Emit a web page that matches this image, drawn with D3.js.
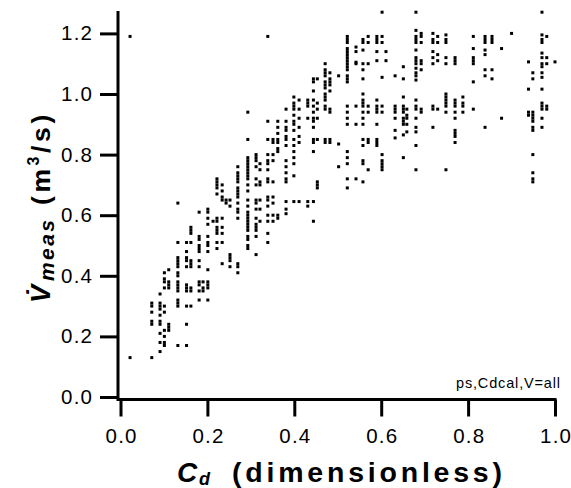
<!DOCTYPE html>
<html>
<head>
<meta charset="utf-8">
<script src="https://cdn.jsdelivr.net/npm/d3@7"></script>
<style>
body { margin: 0; background: #fff; }
</style>
</head>
<body>
<script>
// Cd value of each column of measurements, and the measured flows in that column
var cdColumns = [0.022, 0.072, 0.091, 0.101, 0.111, 0.132, 0.152, 0.162, 0.181, 0.190,
    0.201, 0.213, 0.222, 0.234, 0.243, 0.252, 0.270, 0.293, 0.312, 0.321,
    0.339, 0.351, 0.362, 0.381, 0.399, 0.411, 0.431, 0.444, 0.453, 0.471,
    0.482, 0.502, 0.522, 0.542, 0.558, 0.570, 0.590, 0.602, 0.611, 0.632,
    0.651, 0.659, 0.680, 0.692, 0.719, 0.730, 0.749, 0.770, 0.788, 0.812,
    0.839, 0.855, 0.877, 0.900, 0.939, 0.949, 0.970, 0.981, 1.000];

var vmeasColumns = [
    [1.19, 0.13],
    [0.31, 0.30, 0.28, 0.25, 0.24, 0.13],
    [0.34, 0.31, 0.30, 0.29, 0.27, 0.25, 0.24, 0.21, 0.18, 0.15],
    [0.41, 0.39, 0.38, 0.36, 0.30, 0.28, 0.22, 0.20, 0.18, 0.17],
    [0.42, 0.38, 0.37, 0.36, 0.24, 0.23, 0.22],
    [0.64, 0.51, 0.46, 0.45, 0.44, 0.43, 0.41, 0.40, 0.38, 0.37, 0.36, 0.35, 0.32, 0.31, 0.30, 0.17],
    [0.51, 0.48, 0.46, 0.45, 0.43, 0.37, 0.36, 0.35, 0.30, 0.24, 0.17],
    [0.56, 0.55, 0.54, 0.51, 0.45, 0.44, 0.43, 0.36, 0.35, 0.30],
    [0.61, 0.53, 0.52, 0.50, 0.49, 0.48, 0.45, 0.43, 0.38, 0.37, 0.35, 0.32],
    [0.38, 0.36, 0.35],
    [0.62, 0.61, 0.59, 0.57, 0.53, 0.51, 0.50, 0.48, 0.42, 0.38, 0.37, 0.36, 0.32],
    [0.58],
    [0.72, 0.71, 0.70, 0.69, 0.67, 0.59, 0.58, 0.56, 0.55, 0.54, 0.51, 0.49],
    [0.70, 0.68, 0.66, 0.65, 0.59, 0.56, 0.54, 0.51, 0.44],
    [0.65, 0.64],
    [0.65, 0.63, 0.47, 0.46, 0.45, 0.43],
    [0.76, 0.74, 0.73, 0.72, 0.71, 0.69, 0.68, 0.67, 0.66, 0.64, 0.62, 0.61, 0.59, 0.44, 0.43, 0.41],
    [0.94, 0.85, 0.79, 0.78, 0.77, 0.76, 0.75, 0.74, 0.73, 0.72, 0.70, 0.68, 0.65, 0.63, 0.61, 0.60, 0.59, 0.58, 0.57, 0.56, 0.55, 0.53, 0.52, 0.50, 0.49],
    [0.80, 0.79, 0.78, 0.76, 0.72, 0.70, 0.65, 0.64, 0.62, 0.59, 0.57, 0.56, 0.55, 0.53, 0.47],
    [0.77, 0.75, 0.71, 0.70, 0.65, 0.62, 0.58],
    [1.19, 0.91, 0.85, 0.80, 0.78, 0.77, 0.75, 0.72, 0.71, 0.66, 0.65, 0.63, 0.60, 0.58, 0.54, 0.51],
    [0.85, 0.84, 0.80, 0.78, 0.71, 0.66, 0.64, 0.60, 0.58],
    [0.91, 0.89, 0.87, 0.85, 0.84, 0.82, 0.81, 0.60, 0.59],
    [0.95, 0.91, 0.89, 0.88, 0.86, 0.85, 0.83, 0.78, 0.76, 0.74, 0.72, 0.71, 0.645, 0.62, 0.605],
    [0.99, 0.97, 0.96, 0.95, 0.93, 0.91, 0.90, 0.88, 0.85, 0.83, 0.81, 0.79, 0.77, 0.73, 0.645],
    [0.98, 0.95, 0.92, 0.89, 0.86, 0.84, 0.645],
    [0.98, 0.97, 0.96, 0.92, 0.645, 0.63],
    [1.05, 1.04, 1.01, 0.98, 0.96, 0.94, 0.92, 0.91, 0.89, 0.85, 0.84, 0.81, 0.645, 0.58],
    [1.05, 0.97, 0.95, 0.92, 0.85, 0.71, 0.70, 0.69],
    [1.10, 1.08, 1.07, 1.06, 1.04, 1.03, 1.02, 1.00, 0.99, 0.98, 0.96, 0.95, 0.85, 0.84],
    [1.07, 1.05, 1.04, 1.03, 1.01, 0.95, 0.94, 0.85, 0.84],
    [1.06, 0.835, 0.76],
    [1.19, 1.18, 1.17, 1.15, 1.14, 1.13, 1.12, 1.11, 1.10, 1.09, 1.08, 1.06, 1.05, 1.04, 0.96, 0.94, 0.92, 0.90, 0.81, 0.79, 0.77, 0.72, 0.69],
    [1.155, 1.14, 1.105, 1.10, 0.96, 0.90, 0.72],
    [1.18, 1.17, 1.145, 1.10, 1.08, 1.05, 1.00, 0.98, 0.97, 0.96, 0.94, 0.92, 0.90, 0.85, 0.83, 0.78, 0.77, 0.71],
    [1.19, 1.17, 1.10, 0.96, 0.94, 0.85, 0.84, 0.75],
    [1.19, 1.18, 1.17, 1.14, 1.11, 0.98, 0.96, 0.95, 0.94, 0.90, 0.85, 0.84, 0.83],
    [1.27, 1.19, 1.17, 1.055, 0.96, 0.94, 0.80, 0.78, 0.77, 0.76, 0.75],
    [1.14, 1.11],
    [1.06, 0.96, 0.95, 0.94, 0.92, 0.88, 0.855],
    [1.09, 1.05, 0.99, 0.96, 0.95, 0.94, 0.92, 0.91, 0.90, 0.865, 0.79],
    [0.95, 0.93, 0.92, 0.90, 0.875],
    [1.27, 1.21, 1.19, 1.18, 1.17, 1.145, 1.12, 1.11, 1.10, 1.085, 1.07, 1.06, 1.046, 0.98, 0.96, 0.95, 0.92, 0.89, 0.875, 0.83, 0.75],
    [1.20, 1.19, 1.17, 1.11, 1.10, 1.08, 0.95, 0.94],
    [1.20, 1.18, 1.17, 1.14, 1.12, 1.10, 0.96, 0.95, 0.89],
    [1.19, 1.17, 1.13, 1.11, 0.95],
    [1.195, 1.18, 1.17, 1.12, 1.10, 1.00, 0.99, 0.98, 0.97, 0.96, 0.94, 0.75],
    [1.12, 1.11, 1.10, 0.98, 0.97, 0.96, 0.94, 0.92, 0.88, 0.87, 0.86, 0.84],
    [0.99, 0.97, 0.96, 0.94],
    [1.19, 1.15, 1.12, 1.11, 1.10, 1.04, 0.95],
    [1.19, 1.18, 1.17, 1.145, 1.13, 1.08, 1.06, 0.89],
    [1.19, 1.18, 1.17, 1.08, 1.05],
    [1.15, 0.92],
    [1.20],
    [1.106, 1.016, 0.94, 0.93],
    [1.07, 1.05, 0.94, 0.93, 0.92, 0.91, 0.89, 0.88, 0.80, 0.74, 0.72, 0.71],
    [1.27, 1.195, 1.18, 1.17, 1.135, 1.12, 1.10, 1.09, 1.07, 1.055, 1.016, 0.97, 0.96, 0.95, 0.92, 0.89],
    [1.19, 1.12, 1.10, 0.96, 0.95],
    [1.106]
];

var xTickValues = [0, 0.2, 0.4, 0.6, 0.8, 1.0];
var yTickValues = [0, 0.2, 0.4, 0.6, 0.8, 1.0, 1.2];
var noteText = "ps,Cdcal,V=all";

var points = [];
cdColumns.forEach(function (cd, i) {
    vmeasColumns[i].forEach(function (v) { points.push({ cd: cd, v: v }); });
});

var font = "'Liberation Sans', Arial, Helvetica, sans-serif";

var svg = d3.select("body").append("svg")
    .attr("width", 571)
    .attr("height", 488)
    .style("font-family", font);

var x = d3.scaleLinear().domain([0, 1]).range([120.5, 555]);
var y = d3.scaleLinear().domain([0, 1.2]).range([397, 33.4]);

// points
svg.append("g").selectAll("rect")
    .data(points)
    .enter()
    .append("rect")
    .attr("x", function (d) { return x(d.cd) - 1.5; })
    .attr("y", function (d) { return y(d.v) - 1.5; })
    .attr("width", 3)
    .attr("height", 3)
    .attr("fill", "#000");

// axes
var yAxisG = svg.append("g")
    .attr("transform", "translate(118,0)")
    .call(d3.axisLeft(y).tickValues(yTickValues).tickFormat(d3.format(".1f"))
        .tickSize(18).tickPadding(8).tickSizeOuter(0));

var xAxisG = svg.append("g")
    .attr("transform", "translate(0,399.5)")
    .call(d3.axisBottom(x).tickValues(xTickValues).tickFormat(d3.format(".1f"))
        .tickSize(17).tickPadding(11.5).tickSizeOuter(0));

[yAxisG, xAxisG].forEach(function (g) {
    g.select(".domain").remove();
    g.selectAll(".tick line").attr("stroke", "#000").attr("stroke-width", 3);
    g.selectAll(".tick text")
        .attr("fill", "#000")
        .style("font-family", font)
        .style("font-size", "20.5px")
        .style("letter-spacing", "1.2px");
});
yAxisG.selectAll(".tick text").attr("dx", 1.2);
xAxisG.selectAll(".tick text").attr("dx", 0.6);

// axis lines
svg.append("line")
    .attr("x1", 118).attr("x2", 118)
    .attr("y1", 11).attr("y2", 399)
    .attr("stroke", "#000").attr("stroke-width", 3);
svg.append("line")
    .attr("x1", 116.5).attr("x2", x(1) + 1.5)
    .attr("y1", 399.5).attr("y2", 399.5)
    .attr("stroke", "#000").attr("stroke-width", 3);

// x title
svg.append("text")
    .attr("x", 177).attr("y", 482)
    .attr("font-weight", "bold").attr("font-style", "italic")
    .attr("font-size", 28)
    .text("C");
svg.append("text")
    .attr("x", 199).attr("y", 485)
    .attr("font-weight", "bold").attr("font-style", "italic")
    .attr("font-size", 18)
    .text("d");
svg.append("text")
    .attr("x", 232).attr("y", 482)
    .attr("font-weight", "bold")
    .attr("font-size", 28.5)
    .attr("textLength", 270).attr("lengthAdjust", "spacing")
    .text("(dimensionless)");

// y title
var yt = svg.append("g").attr("transform", "translate(50,303) rotate(-90)");
yt.append("text")
    .attr("x", 0).attr("y", 0)
    .attr("font-weight", "bold").attr("font-style", "italic")
    .attr("font-size", 27)
    .text("V\u0307");
yt.append("text")
    .attr("x", 22).attr("y", 4)
    .attr("font-weight", "bold").attr("font-style", "italic")
    .attr("font-size", 21)
    .attr("textLength", 61).attr("lengthAdjust", "spacing")
    .text("meas");
var unit = yt.append("text")
    .attr("x", 98).attr("y", 0)
    .attr("font-weight", "bold")
    .attr("font-size", 26.5)
    .style("letter-spacing", "3.6px");
unit.append("tspan").text("(m");
unit.append("tspan").attr("font-size", 16).attr("dy", -11).text("3");
unit.append("tspan").attr("dy", 11).text("/s)");

// note
svg.append("text")
    .attr("x", 456).attr("y", 388)
    .attr("font-size", 14.5)
    .attr("textLength", 104).attr("lengthAdjust", "spacing")
    .text(noteText);
</script>
</body>
</html>
